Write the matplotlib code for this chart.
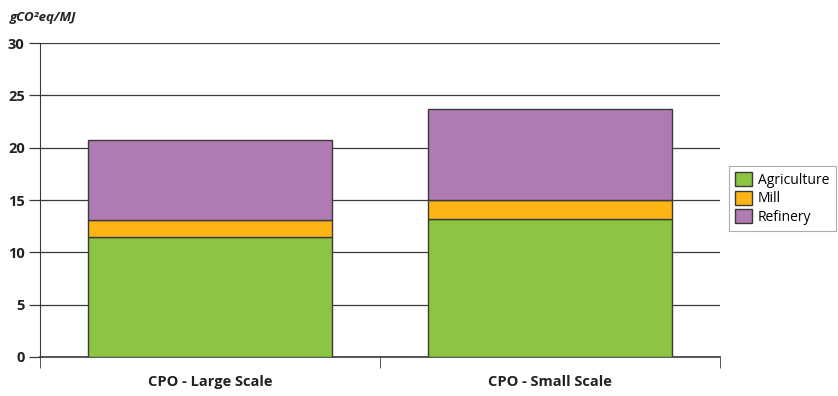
import matplotlib.pyplot as plt
import numpy as np

plt.rcParams['font.family'] = ['Open Sans', 'DejaVu Sans']

# Data.
categories = ['CPO - Large Scale', 'CPO - Small Scale']
agriculture = [11.5, 13.2]
mill = [1.6, 1.8]
refinery = [7.6, 8.7]
y_ticks = [0, 5, 10, 15, 20, 25, 30]

colors = {
    'Agriculture': '#8cc541',
    'Mill': '#fdb515',
    'Refinery': '#b07ab3',
}

fig = plt.figure(figsize=(8.38, 3.96), dpi=100)
ax = fig.add_axes([0.0477, 0.0985, 0.8115, 0.7925])

x = np.arange(len(categories))
width = 0.72
edge = dict(edgecolor='#3a3a3a', linewidth=1.0, zorder=3)

agri = np.array(agriculture)
mill_arr = np.array(mill)
ref = np.array(refinery)

ax.bar(x, agri, width, color=colors['Agriculture'], label='Agriculture', **edge)
ax.bar(x, mill_arr, width, bottom=agri, color=colors['Mill'], label='Mill', **edge)
ax.bar(x, ref, width, bottom=agri + mill_arr, color=colors['Refinery'],
       label='Refinery', **edge)

ax.set_xlim(-0.5, len(categories) - 0.5)
ax.set_ylim(0, 30)
ax.set_yticks(y_ticks)
ax.set_yticklabels([str(v) for v in y_ticks], fontsize=10.5, fontweight='bold',
                   color='#222222')
ax.yaxis.grid(True, color='#3a3a3a', linewidth=0.9, zorder=0)
ax.set_axisbelow(True)

ax.set_xticks(x)
ax.set_xticklabels(categories, fontsize=10.5, fontweight='bold', color='#222222')
ax.tick_params(axis='x', length=0, pad=13)
ax.set_xticks(np.arange(len(categories) + 1) - 0.5, minor=True)
ax.tick_params(axis='x', which='minor', length=8, color='#3a3a3a', direction='out')
ax.tick_params(axis='y', length=8, color='#3a3a3a', width=0.9, pad=3)

for side in ['top', 'right']:
    ax.spines[side].set_visible(False)
ax.spines['left'].set_color('#3a3a3a')
ax.spines['bottom'].set_color('#3a3a3a')
ax.spines['bottom'].set_linewidth(1.2)

fig.text(0.012, 0.955, 'gCO²eq/MJ', fontsize=9.5, fontweight='bold',
         fontstyle='italic', color='#222222', va='center')

leg = ax.legend(loc='center left', bbox_to_anchor=(1.013, 0.505), fontsize=10,
                frameon=True, fancybox=False, edgecolor='#999999',
                handlelength=1.2, handleheight=1.2, handletextpad=0.45,
                borderpad=0.45, labelspacing=0.2, borderaxespad=0)
leg.get_frame().set_linewidth(0.8)

fig.savefig('out.png', dpi=100)
